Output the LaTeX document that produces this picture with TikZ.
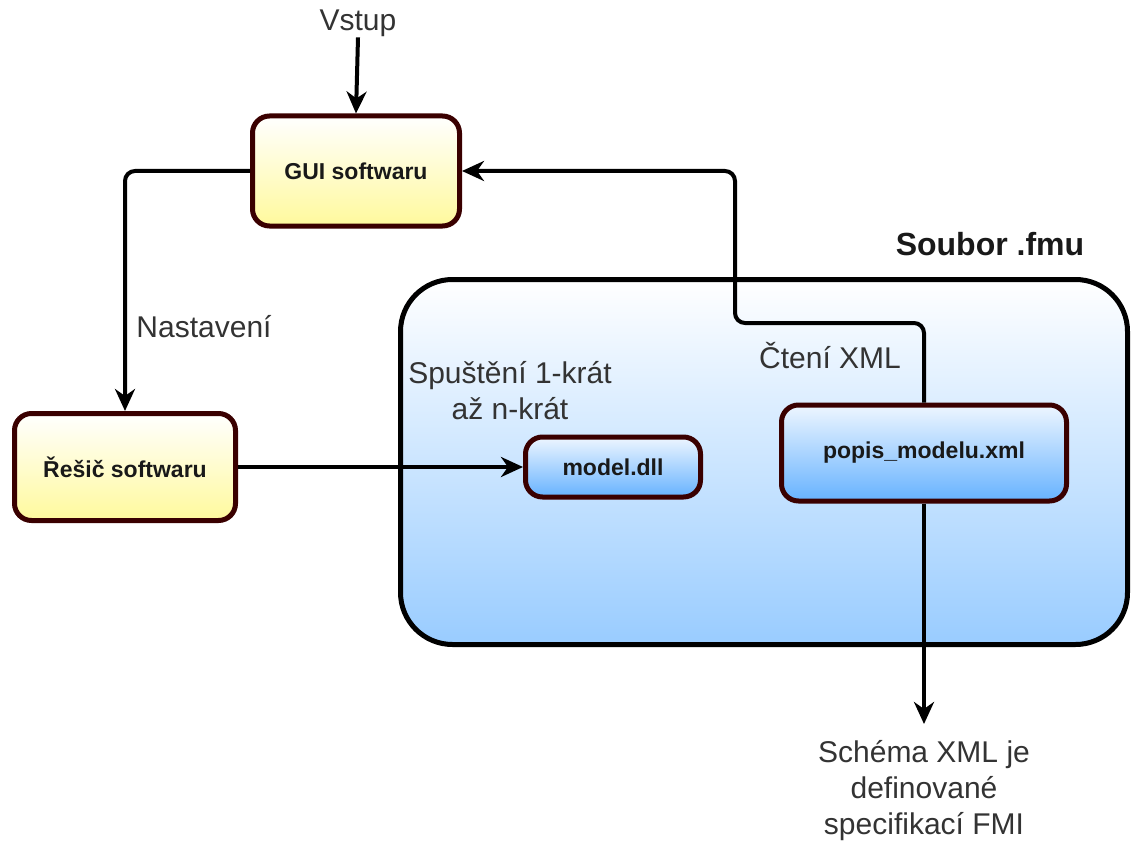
\documentclass[tikz,border=0pt]{standalone}
\usepackage{fontspec}
\setmainfont{Liberation Sans}
\usepackage{xcolor}
\usetikzlibrary{arrows.meta, shadows}

\definecolor{boxborder}{HTML}{3A0000}
\definecolor{yellowfill}{HTML}{FFF99C}
\definecolor{bluefill}{HTML}{66B2FF}
\definecolor{bluetop}{HTML}{EEF6FF}
\definecolor{fmufill}{HTML}{99CCFF}
\definecolor{labelgrey}{HTML}{333333}

\begin{document}
\begin{tikzpicture}[x=1pt, y=-1pt,
		label text/.style={inner sep=0pt, text=labelgrey, font=\fontsize{30}{36}\selectfont},
		box/.style={draw=boxborder, line width=5pt, rounded corners=17pt, inner sep=0pt,
			font=\bfseries\fontsize{23}{28}\selectfont, text=black!90,
			drop shadow={shadow xshift=2pt, shadow yshift=-2pt, opacity=0.25}},
		yellowbox/.style={box, top color=white, bottom color=yellowfill},
		bluebox/.style={box, top color=bluetop, bottom color=bluefill},
		flow/.style={line width=4pt, rounded corners=10pt, -{Stealth[length=22pt, width=20pt, inset=7pt]}}]
		\useasboundingbox (0,0) rectangle (1132,845);
		
		% soubor .fmu
		\node [draw, line width=5pt, rounded corners=52pt, top color=white, bottom color=fmufill,
			minimum width=727pt, minimum height=365pt, inner sep=0pt,
			drop shadow={shadow xshift=2pt, shadow yshift=-2pt, opacity=0.25}] (fmu) at (764,462) {};
		\node [inner sep=0pt, anchor=base, font=\bfseries\fontsize{32}{38}\selectfont, text=black!90] (fmutitle) at (990,255) {Soubor .fmu};
		
		% boxes
		\node [yellowbox, minimum width=207pt, minimum height=110pt] (gui) at (356,171) {GUI softwaru};
		\node [yellowbox, minimum width=221pt, minimum height=107pt] (resic) at (125,467) {Řešič softwaru};
		\node [bluebox, minimum width=175pt, minimum height=60pt] (dll) at (613,467) {model.dll};
		\node [bluebox, minimum width=285pt, minimum height=96pt] (xml) at (924,453) {popis\_modelu.xml};
		
		% texts
		\node [label text, anchor=base] (vstup) at (358,31) {Vstup};
		\node [label text, anchor=base] (nastaveni) at (204,337) {Nastavení};
		\node [label text, anchor=base] (cteni) at (830,368) {Čtení XML};
		\node [label text, anchor=north, align=center] (spusteni) at (510,361) {Spuštění 1-krát\\až n-krát};
		\node [label text, anchor=north, align=center] (schema) at (924,740) {Schéma XML je\\definované\\specifikací FMI};
		
		\coordinate (bend) at (735,323);
		\coordinate (xmlend) at (924,724);
		
		% connectors
		\draw [flow] (vstup.south) -- (gui.north);
		\draw [flow] (gui.west) -| (resic.north);
		\draw [flow] (resic.east) -- (dll.west);
		\draw [flow] (xml.north) |- (bend) |- (gui.east);
		\draw [flow] (xml.south) -- (xmlend);
	\end{tikzpicture}
\end{document}
